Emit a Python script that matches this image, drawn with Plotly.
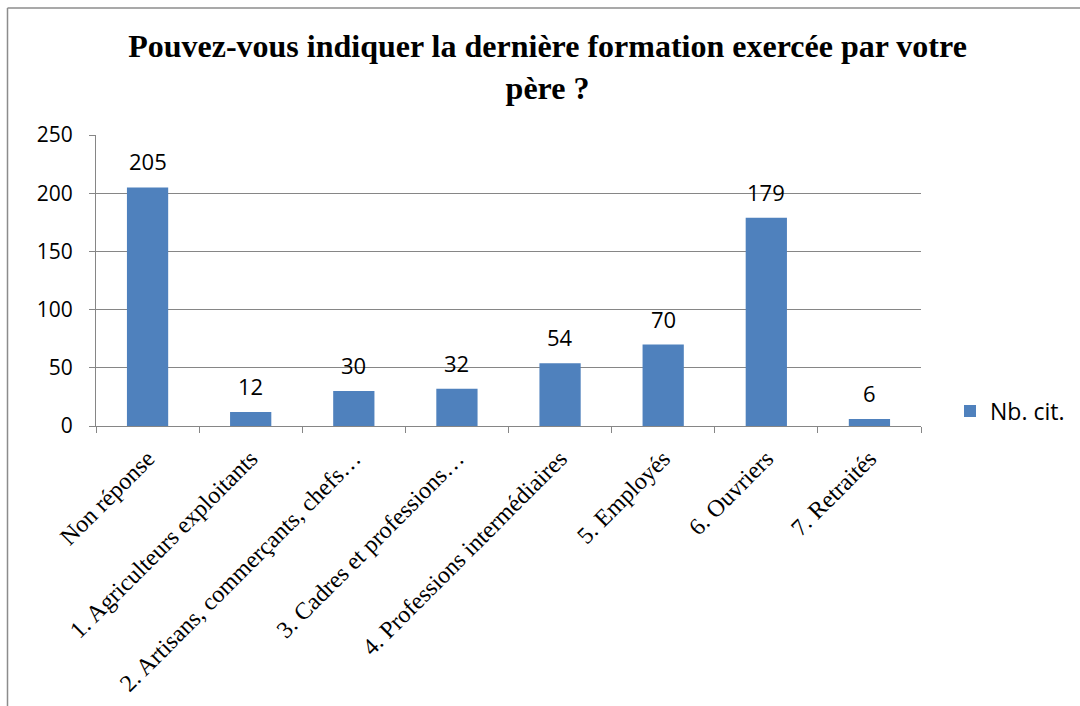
import plotly.graph_objects as go

categories = [
    "Non réponse",
    "1. Agriculteurs exploitants",
    "2. Artisans, commerçants, chefs…",
    "3. Cadres et professions…",
    "4. Professions intermédiaires",
    "5. Employés",
    "6. Ouvriers",
    "7. Retraités",
]
counts = [205, 12, 30, 32, 54, 70, 179, 6]
y_ticks = [0, 50, 100, 150, 200, 250]
series_name = "Nb. cit."
title_text = "Pouvez-vous indiquer la dernière formation exercée par votre<br>père ?"

BAR = "#4F81BD"
AXIS = "#868686"
SANS = "Open Sans"
SERIF = "Liberation Serif"

fig = go.Figure()
fig.add_trace(go.Bar(
    x=categories, y=counts, name=series_name,
    marker=dict(color=BAR, line=dict(width=0)),
    showlegend=True,
))

# value labels above each bar
for c, v in zip(categories, counts):
    fig.add_annotation(
        x=c, y=v, text=str(v), showarrow=False,
        xref="x", yref="y", yanchor="bottom", yshift=9,
        font=dict(family=SANS, size=22, color="#000000"),
    )

L, R, T, B = 96, 159, 135, 280
W, H = 1080, 706
pw, ph = W - L - R, H - T - B

def px_x(p):
    return (p - L) / pw

def px_y(p):
    return (H - B - p) / ph

# outer chart frame (left and top edges)
fig.add_shape(type="line", xref="paper", yref="paper",
              x0=px_x(7.5), x1=px_x(7.5), y0=px_y(8), y1=px_y(720),
              line=dict(color="#8C8C8C", width=1.5))
fig.add_shape(type="line", xref="paper", yref="paper",
              x0=px_x(7.5), x1=px_x(1090), y0=px_y(8), y1=px_y(8),
              line=dict(color="#8C8C8C", width=1.5))

fig.update_layout(
    width=W, height=H,
    margin=dict(l=L, r=R, t=T, b=B, autoexpand=False),
    paper_bgcolor="white", plot_bgcolor="white",
    bargap=0.6,
    title=dict(
        text="<b>" + title_text + "</b>",
        x=547.5 / W, xanchor="center", xref="container",
        y=1 - 57 / H, yanchor="top", yref="container",
        font=dict(family=SERIF, size=32, color="#000000"),
    ),
    legend=dict(
        x=px_x(950), y=px_y(411), xanchor="left", yanchor="middle",
        font=dict(family=SANS, size=23, color="#000000"),
        bgcolor="rgba(0,0,0,0)",
    ),
    xaxis=dict(
        type="category", tickangle=-45,
        showline=True, linecolor=AXIS, linewidth=1,
        ticks="outside", tickson="boundaries", ticklen=6, tickcolor=AXIS,
        showgrid=False, ticklabelstandoff=8,
        tickfont=dict(family=SERIF, size=24, color="#000000"),
    ),
    yaxis=dict(
        range=[0, 250], tickvals=y_ticks,
        showline=True, linecolor=AXIS, linewidth=1,
        ticks="outside", ticklen=6, tickcolor=AXIS,
        showgrid=True, gridcolor=AXIS, gridwidth=1,
        zeroline=False, ticklabelstandoff=12,
        tickfont=dict(family=SANS, size=21, color="#000000"),
    ),
)

fig.write_html("out.html")
